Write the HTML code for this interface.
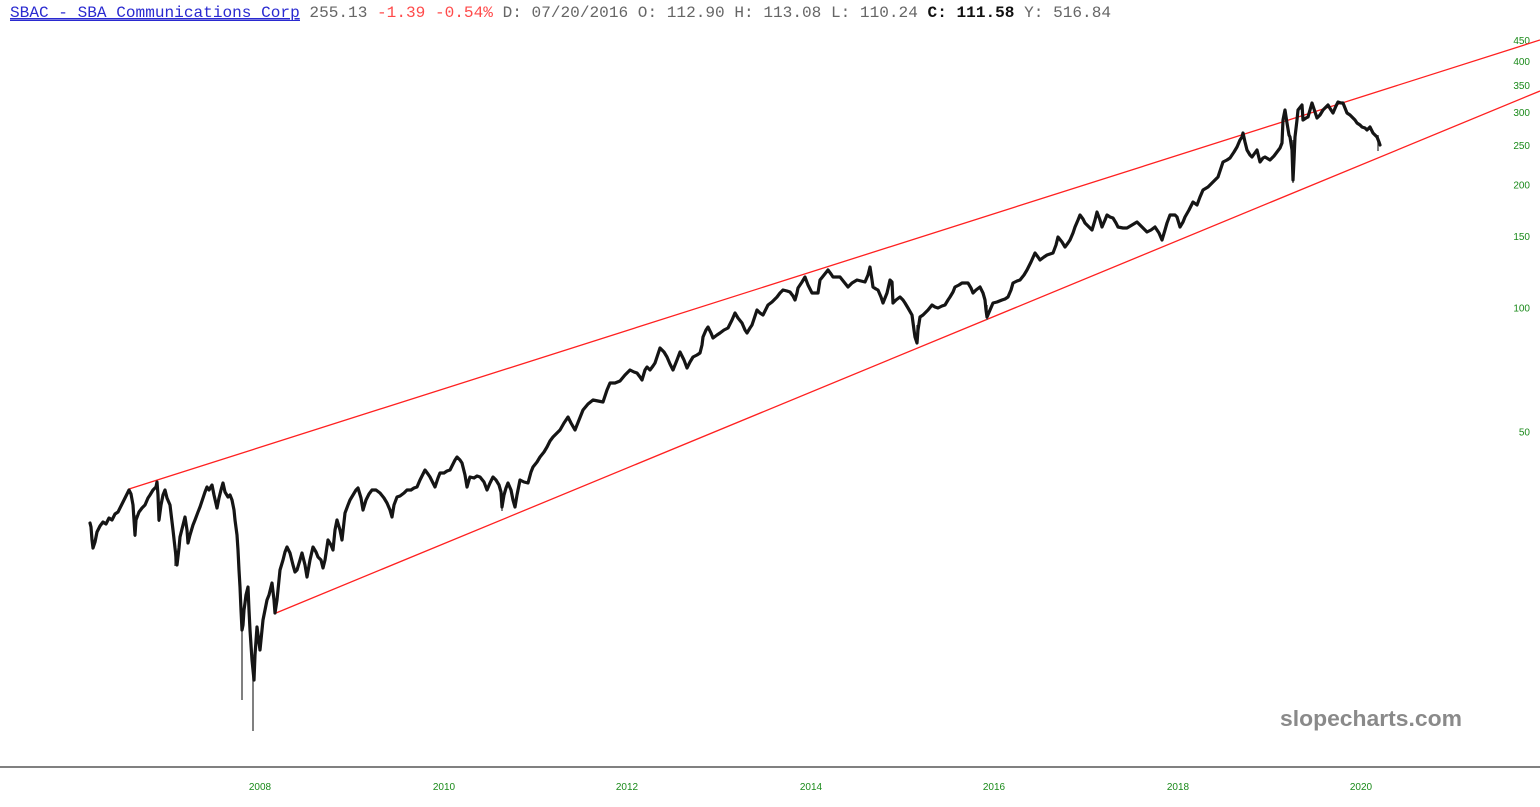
<!DOCTYPE html>
<html>
<head>
<meta charset="utf-8">
<style>
html,body{margin:0;padding:0;background:#fff;}
body{width:1540px;height:807px;overflow:hidden;position:relative;}
svg{position:absolute;left:0;top:0;}
</style>
</head>
<body>
<svg width="1540" height="807" viewBox="0 0 1540 807" xmlns="http://www.w3.org/2000/svg">
<rect width="1540" height="807" fill="#fff"/>
<!-- header -->
<text x="10" y="17" font-family="Liberation Mono, monospace" font-size="16.1" xml:space="preserve"><tspan fill="#2a2ad0" text-decoration="underline">SBAC - SBA Communications Corp</tspan><tspan fill="#666"> 255.13 </tspan><tspan fill="#ff4a4a">-1.39 -0.54%</tspan><tspan fill="#666"> D: 07/20/2016 O: 112.90 H: 113.08 L: 110.24 </tspan><tspan fill="#111" font-weight="bold">C: 111.58</tspan><tspan fill="#666"> Y: 516.84</tspan></text>
<line x1="10" y1="20.5" x2="300" y2="20.5" stroke="#2a2ad0" stroke-width="1"/>

<!-- y axis labels -->
<g font-family="Liberation Sans, sans-serif" font-size="10" fill="#1a8a1a" text-anchor="end">
<text x="1530" y="44">450</text>
<text x="1530" y="65">400</text>
<text x="1530" y="89">350</text>
<text x="1530" y="116">300</text>
<text x="1530" y="149">250</text>
<text x="1530" y="188.5">200</text>
<text x="1530" y="240">150</text>
<text x="1530" y="311.5">100</text>
<text x="1530" y="435.5">50</text>
</g>

<!-- x axis -->
<line x1="0" y1="767" x2="1540" y2="767" stroke="#808080" stroke-width="2"/>
<g font-family="Liberation Sans, sans-serif" font-size="10" fill="#1a8a1a" text-anchor="middle">
<text x="260" y="790">2008</text>
<text x="444" y="790">2010</text>
<text x="627" y="790">2012</text>
<text x="811" y="790">2014</text>
<text x="994" y="790">2016</text>
<text x="1178" y="790">2018</text>
<text x="1361" y="790">2020</text>
</g>

<!-- watermark -->
<text x="1280" y="726" font-family="Liberation Sans, sans-serif" font-weight="bold" font-size="22" fill="#8a8a8a" textLength="182" lengthAdjust="spacingAndGlyphs">slopecharts.com</text>

<!-- trend lines -->
<line x1="129" y1="489" x2="1540" y2="40" stroke="#ff2020" stroke-width="1.3"/>
<line x1="276" y1="613" x2="1540" y2="91" stroke="#ff2020" stroke-width="1.3"/>

<!-- wicks -->
<g stroke="#555" stroke-width="1.5">
<line x1="242" y1="620" x2="242" y2="700"/>
<line x1="253" y1="660" x2="253" y2="731"/>
<line x1="1293" y1="140" x2="1293" y2="183"/>
<line x1="917" y1="325" x2="917" y2="344"/>
<line x1="175" y1="545" x2="175" y2="566"/>
<line x1="1378" y1="135" x2="1378" y2="151"/>
<line x1="159" y1="505" x2="159" y2="522"/>
<line x1="135" y1="515" x2="135" y2="537"/>
<line x1="502" y1="495" x2="502" y2="511"/>
<line x1="987" y1="305" x2="987" y2="320"/>
</g>

<!-- price series -->
<polyline fill="none" stroke="#151515" stroke-width="3.2" stroke-linejoin="round" stroke-linecap="round" points="
90,523 91,527 92,540 93,548 95,542 97,532 100,526 103,522 106,524 109,518 112,520 115,514 118,512 121,506 124,500 127,494 129,490 131,494 133,505 135,535 136,520 139,512 142,508 145,505 148,498 150,495 153,490 156,487 157,482 158,495 159,520 161,505 163,495 165,490 167,498 170,505 173,530 175,548 177,565 179,548 180,537 183,525 185,517 187,530 188,543 190,535 193,525 195,520 198,512 200,507 203,498 205,492 207,487 209,490 212,485 214,495 217,508 219,498 221,490 223,483 225,492 228,497 230,495 232,500 234,510 235,520 237,535 238,550 239,570 240,587 241,610 242,630 243,625 244,610 245,603 246,595 248,587 249,610 250,630 251,645 252,660 253,670 254,680 255,655 257,627 258,635 260,650 261,640 263,620 265,610 267,600 269,595 272,583 274,600 275,613 277,600 280,570 283,560 285,552 287,547 290,553 293,565 295,572 297,570 300,560 302,553 305,565 307,577 310,560 313,547 316,552 318,557 321,560 323,568 325,560 328,540 331,545 333,550 335,530 337,520 340,530 342,540 345,513 348,505 350,500 353,495 356,490 358,488 361,498 363,510 366,500 369,494 372,490 376,490 380,493 384,498 387,503 390,510 392,517 394,505 397,497 400,496 404,493 407,490 411,490 414,488 417,487 420,480 423,474 425,470 428,474 430,477 433,483 435,487 438,478 440,473 444,473 447,471 450,470 453,464 455,460 457,457 460,460 462,463 465,475 467,487 469,480 470,477 474,478 477,476 480,477 484,482 487,490 490,483 493,477 496,480 499,485 501,492 502,507 504,495 506,488 508,483 511,490 513,500 515,507 517,495 520,480 524,482 528,483 531,472 533,467 537,462 540,457 544,452 547,447 550,441 553,437 557,433 560,430 564,423 568,417 571,423 575,430 579,420 583,410 588,404 593,400 598,401 603,402 607,390 610,383 615,383 620,381 625,375 630,370 634,372 637,373 640,377 642,380 645,370 647,367 650,370 653,366 655,363 658,354 660,348 664,352 667,357 670,364 673,370 677,360 680,352 684,360 687,368 690,362 693,357 697,355 700,353 702,345 703,337 706,330 708,327 711,333 713,338 717,335 720,333 724,330 728,328 732,320 735,313 738,318 742,323 745,330 747,333 750,328 752,325 755,316 757,310 760,313 763,315 766,309 768,305 772,302 777,297 780,293 783,290 787,291 790,292 793,296 795,300 797,293 798,288 802,282 805,277 808,285 812,293 815,293 818,293 820,280 824,275 828,270 831,274 833,277 837,277 840,277 844,282 848,287 852,283 857,280 861,281 865,282 868,275 870,267 872,280 873,287 876,289 878,290 881,297 883,303 885,298 887,293 890,280 892,282 893,303 896,300 900,297 903,300 905,303 908,308 912,315 914,330 915,337 917,343 918,330 920,317 923,315 925,313 928,310 932,305 935,307 938,308 942,306 945,305 948,300 950,297 953,292 955,287 959,285 962,283 965,283 968,283 971,288 973,293 976,290 980,287 983,293 985,300 986,310 987,317 990,310 993,303 997,302 1002,300 1005,299 1008,297 1011,290 1013,283 1017,281 1020,280 1024,275 1027,270 1031,262 1035,253 1038,257 1040,260 1044,257 1047,255 1050,254 1053,253 1056,245 1058,237 1062,242 1065,247 1068,243 1070,240 1073,233 1075,227 1078,220 1080,215 1083,219 1085,223 1089,227 1092,230 1095,220 1097,212 1100,220 1102,227 1105,220 1107,215 1110,217 1113,218 1116,223 1118,227 1123,228 1127,228 1132,225 1137,222 1142,227 1147,232 1151,230 1155,227 1159,233 1162,240 1165,230 1167,223 1170,215 1175,215 1177,217 1180,227 1183,222 1185,217 1189,210 1193,202 1197,205 1200,197 1203,190 1208,187 1213,182 1218,177 1221,168 1223,162 1227,160 1230,158 1234,152 1237,147 1240,140 1242,137 1243,133 1245,142 1247,150 1250,155 1252,157 1257,150 1260,162 1263,158 1265,157 1270,160 1274,156 1277,152 1280,148 1282,143 1283,120 1285,110 1287,123 1289,135 1290,137 1292,150 1293,180 1294,160 1295,137 1297,120 1298,110 1302,105 1303,120 1306,118 1308,117 1310,110 1312,103 1315,112 1317,118 1320,115 1323,110 1326,107 1328,105 1331,110 1333,113 1336,106 1338,102 1341,103 1343,103 1347,113 1350,115 1352,117 1355,120 1357,123 1360,125 1362,127 1365,128 1367,130 1370,127 1373,133 1375,135 1377,137 1379,142 1380,145"/>
</svg>
</body>
</html>
